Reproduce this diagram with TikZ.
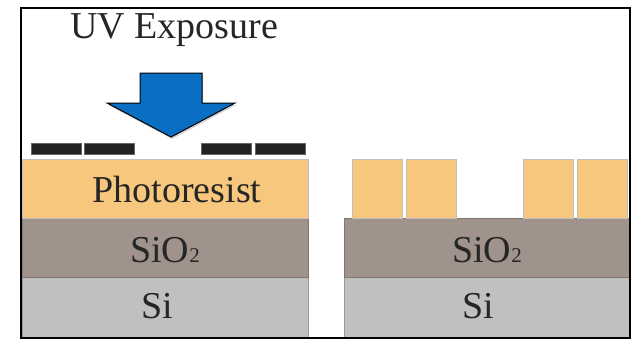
\documentclass[tikz,border=0pt]{standalone}
\usepackage{fontspec}
\setmainfont{Liberation Serif}
\usetikzlibrary{shadows}
\definecolor{resist}{HTML}{F6C77D}
\definecolor{oxide}{HTML}{A0938B}
\definecolor{silicon}{HTML}{C0C0C0}
\definecolor{uvblue}{HTML}{0A6EC2}
\definecolor{maskblk}{HTML}{222222}
\definecolor{txtgray}{HTML}{262626}

\begin{document}
\begin{tikzpicture}[
  x=1pt, y=-1pt,
  layer/.style={draw=#1!80!black, line width=0.5pt, fill=#1, inner sep=0pt,
    outer sep=0pt, anchor=north west},
  pillar/.style={draw=black!25, line width=0.8pt, fill=resist, inner sep=0pt,
    outer sep=0pt, anchor=north west, minimum width=50pt, minimum height=59pt},
  maskbar/.style={fill=maskblk, draw=black!60, line width=0.4pt, inner sep=0pt,
    anchor=north west, minimum width=50pt, minimum height=11pt},
  lbl/.style={font=\fontsize{38}{42}\selectfont, text=txtgray, anchor=base,
    inner sep=0pt},
]

% Bounding box and frame
\useasboundingbox (0,0) rectangle (636,340);
\fill[white] (0,0) rectangle (636,340);

% =============================================
% Left: stack under exposure
% =============================================
\node[layer=silicon, minimum width=286pt, minimum height=61pt] (siL) at (22,277) {};
\node[layer=oxide, minimum width=286pt, minimum height=59pt] (oxL) at (22,218) {};
\node[layer=resist, draw=black!25, minimum width=286pt, minimum height=59pt] (prL) at (22,159) {};

\node[lbl] (prtxt) at (177,202) {Photoresist};
\node[lbl] (oxtxtL) at (165,262) {SiO{\fontsize{21}{21}\selectfont 2}};
\node[lbl] (sitxtL) at (157,318) {Si};

% Mask
\node[maskbar] (m1) at (31,143) {};
\node[maskbar] (m2) at (84,143) {};
\node[maskbar] (m3) at (201,143) {};
\node[maskbar] (m4) at (255,143) {};

% UV arrow
\node[lbl] (uv) at (174,38) {UV Exposure};
\draw[fill=uvblue, draw=black, line width=1pt, line join=miter,
  drop shadow={shadow xshift=1pt, shadow yshift=-2pt, opacity=0.35}]
  (140,73) -- (202,73) -- (202,103) -- (235,103) -- (171,137)
  -- (107,103) -- (140,103) -- cycle;

% =============================================
% Right: developed pattern
% =============================================
\node[layer=silicon, minimum width=286pt, minimum height=61pt] (siR) at (344,277) {};
\node[layer=oxide, minimum width=286pt, minimum height=59pt] (oxR) at (344,218) {};

\node[pillar] (p1) at (352,159) {};
\node[pillar] (p2) at (406,159) {};
\node[pillar] (p3) at (523,159) {};
\node[pillar] (p4) at (577,159) {};

\node[lbl] (oxtxtR) at (487,262) {SiO{\fontsize{21}{21}\selectfont 2}};
\node[lbl] (sitxtR) at (478,318) {Si};

% Frame
\draw[black, line width=2pt] (21,8) rectangle (630,338);

\end{tikzpicture}
\end{document}
